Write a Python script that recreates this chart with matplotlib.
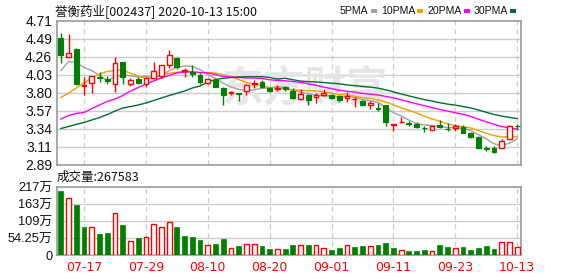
import numpy as np
import matplotlib
matplotlib.use("Agg")
import matplotlib.pyplot as plt
from matplotlib.patches import Rectangle

# ---------------- data ----------------
dates = ["07-14","07-15","07-16","07-17","07-20","07-21","07-22","07-23","07-24","07-27",
         "07-28","07-29","07-30","07-31","08-03","08-04","08-05","08-06","08-07","08-10",
         "08-11","08-12","08-13","08-14","08-17","08-18","08-19","08-20","08-21","08-24",
         "08-25","08-26","08-27","08-28","08-31","09-01","09-02","09-03","09-04","09-07",
         "09-08","09-09","09-10","09-11","09-14","09-15","09-16","09-17","09-18","09-21",
         "09-22","09-23","09-24","09-25","09-28","09-29","09-30","10-09","10-12","10-13"]
tick_dates = ["07-17","07-29","08-10","08-20","09-01","09-11","09-23","10-13"]

open_ = [4.495,4.259,4.352,3.889,3.922,4.005,3.972,3.914,4.192,3.909,
         3.977,3.914,3.985,4.015,4.150,4.242,4.074,4.070,4.027,3.926,
         3.960,3.863,3.800,3.796,3.821,3.918,3.943,3.863,3.851,3.880,
         3.829,3.724,3.775,3.745,3.775,3.775,3.762,3.733,3.720,3.699,
         3.644,3.610,3.644,3.391,3.429,3.421,3.404,3.362,3.337,3.396,
         3.349,3.353,3.374,3.290,3.248,3.101,3.101,3.101,3.214,3.387]
high = [4.563,4.546,4.365,3.998,4.020,4.070,4.015,4.259,4.195,3.985,
        4.006,4.006,4.192,4.150,4.343,4.259,4.116,4.150,4.048,3.985,
        3.973,3.880,3.829,3.804,3.909,3.964,3.964,3.880,3.897,3.888,
        3.859,3.846,3.790,3.804,3.846,3.787,3.775,3.817,3.754,3.711,
        3.699,3.669,3.652,3.408,3.501,3.450,3.429,3.383,3.379,3.459,
        3.417,3.408,3.391,3.311,3.252,3.130,3.130,3.223,3.391,3.408]
low = [4.175,4.259,3.897,3.779,3.804,3.943,3.909,3.817,3.909,3.893,
       3.909,3.880,3.973,3.990,4.120,4.108,4.006,4.006,3.909,3.909,
       3.880,3.652,3.779,3.703,3.779,3.867,3.859,3.817,3.829,3.825,
       3.728,3.711,3.644,3.678,3.762,3.720,3.690,3.690,3.619,3.636,
       3.594,3.577,3.387,3.315,3.417,3.387,3.353,3.303,3.332,3.353,
       3.324,3.315,3.290,3.227,3.088,3.063,3.046,3.101,3.214,3.332]
close = [4.284,4.301,3.914,3.897,4.015,3.995,3.947,4.175,4.006,3.964,
         3.922,3.985,4.074,4.150,4.276,4.124,4.091,4.040,3.943,3.972,
         3.880,3.779,3.808,3.787,3.897,3.931,3.880,3.825,3.867,3.846,
         3.741,3.787,3.711,3.775,3.796,3.741,3.711,3.762,3.728,3.644,
         3.674,3.602,3.429,3.408,3.438,3.412,3.370,3.353,3.379,3.366,
         3.341,3.383,3.299,3.240,3.101,3.092,3.059,3.193,3.379,3.379]

# moving-average values before enough in-window closes exist
ma5_head = [4.084, 4.198, 4.185, 4.122]
ma10_head = [3.743, 3.800, 3.863, 3.926, 3.990, 4.040, 4.072, 4.084, 4.091]
ma20_head = [3.471, 3.516, 3.541, 3.554, 3.604, 3.648, 3.693, 3.724, 3.768, 3.825,
             3.869, 3.914, 3.952, 3.990, 4.021, 4.053, 4.065, 4.068, 4.059]
ma30_head = [3.351, 3.377, 3.404, 3.427, 3.459, 3.490, 3.528, 3.572, 3.610, 3.629,
             3.648, 3.674, 3.705, 3.737, 3.768, 3.796, 3.825, 3.863, 3.888, 3.939,
             3.971, 3.986, 3.996, 4.002, 4.006, 4.006, 4.006, 3.996, 3.977]

volume = [203, 183, 158.5, 88, 90, 66, 69, 135, 95, 46,
          53, 58.5, 100, 88, 106, 88, 61, 56, 47, 33,
          34, 50, 23, 28, 36, 36, 28, 18, 20, 18,
          31, 31, 31, 31, 23, 15, 21, 31, 24.5, 28,
          28, 31, 37, 21, 17, 12, 12, 15, 14, 31,
          24.5, 21, 24.5, 15, 21, 28, 18, 42.5, 42.5, 26.7583]
vol_up = [0,1,0,0,1,0,0,1,0,1, 0,1,1,1,1,0,0,0,0,1,
          0,0,1,0,1,1,0,0,1,0, 0,1,0,1,1,0,0,1,0,0,
          1,0,0,0,1,0,0,0,1,0, 0,1,0,0,0,0,0,1,1,1]

price_ticks = ["2.89","3.11","3.34","3.57","3.80","4.03","4.26","4.49","4.71"]
vol_ticks = [0, 54.25, 108.5, 162.75, 217]
vol_tick_labels = ["0", "54.25万", "109万", "163万", "217万"]

title_text = "誉衡药业[002437] 2020-10-13 15:00"
vol_text = "成交量:267583"
watermark = "东方财富"
legend_names = ["5PMA", "10PMA", "20PMA", "30PMA"]
ma_colors = ["#a0a0a0", "#f0a000", "#ff00ff", "#006e32"]

# ---------------- computations ----------------
c = np.array(close)
def rolling(n):
    return [c[i - n + 1:i + 1].mean() for i in range(n - 1, len(c))]
ma5 = ma5_head + rolling(5)
ma10 = ma10_head + rolling(10)
ma20 = ma20_head + rolling(20)
ma30 = ma30_head + rolling(30)

RED = "#ff0000"
GREEN = "#008000"
FONT = ["Liberation Sans", "Noto Sans CJK SC", "DejaVu Sans"]
CJK = ["Noto Sans CJK SC", "DejaVu Sans"]

W, H = 578, 276
fig = plt.figure(figsize=(W / 100, H / 100), dpi=100)
fig.patch.set_facecolor("white")

def fx(px): return px / W
def fy(py): return 1 - py / H

ax = fig.add_axes([fx(57), fy(165), fx(521) - fx(57), fy(21) - fy(165)])
axv = fig.add_axes([fx(57), fy(255), fx(521) - fx(57), fy(187) - fy(255)])

n = len(close)
x = np.arange(n)
ymin, ymax = float(price_ticks[0]), float(price_ticks[-1])
tick_pos = [dates.index(d) for d in tick_dates]

for a in (ax, axv):
    a.set_xlim(-0.5, n - 0.5)
    for s in a.spines.values():
        s.set_color("#999999")
        s.set_linewidth(1.2)
    a.tick_params(length=0)
    for tp in tick_pos:
        a.axvline(tp, color="#cccccc", lw=0.9, ls=(0, (4, 3)), zorder=0)

ax.set_ylim(ymin, ymax)
ypos = np.linspace(ymin, ymax, len(price_ticks))
ax.set_yticks(ypos)
ax.set_yticklabels(price_ticks, fontsize=10, family=FONT, color="#111111")
for yp in ypos[1:-1]:
    ax.axhline(yp, color="#cccccc", lw=1.0, zorder=0)
ax.set_xticks([])

# watermark
ax.text(31.5, 3.86, watermark, fontsize=30, fontweight="bold", color="#e6e6e6",
        ha="center", va="center", family=CJK, zorder=0.5)

# MA lines
for vals, col in zip([ma5, ma10, ma20, ma30], ma_colors):
    ax.plot(x, vals, color=col, lw=1.0, zorder=2)

# candles
bw = 0.62
for i in range(n):
    o, h, l, cl = open_[i], high[i], low[i], close[i]
    up = cl >= o
    col = RED if up else GREEN
    ax.vlines(i, l, h, color=col, lw=1.0, zorder=3)
    bottom = min(o, cl)
    hgt = max(abs(cl - o), 0.004)
    if up:
        ax.bar(i, hgt, bottom=bottom, width=bw, facecolor="white",
               edgecolor=col, linewidth=1.0, zorder=4)
    else:
        ax.bar(i, hgt, bottom=bottom, width=bw, facecolor=col,
               edgecolor=col, linewidth=0.8, zorder=4)

# volume
axv.set_ylim(0, vol_ticks[-1])
axv.set_yticks(vol_ticks)
axv.set_yticklabels(vol_tick_labels, fontsize=9.2, family=FONT, color="#111111")
for yp in vol_ticks[1:-1]:
    axv.axhline(yp, color="#cccccc", lw=1.0, zorder=0)
for i in range(n):
    if vol_up[i]:
        axv.bar(i, volume[i], width=bw, facecolor="white", edgecolor=RED,
                linewidth=1.0, zorder=3)
    else:
        axv.bar(i, volume[i], width=bw, facecolor=GREEN, edgecolor=GREEN,
                linewidth=0.5, zorder=3)
axv.set_xticks(tick_pos)
axv.set_xticklabels(tick_dates, fontsize=9, color=RED, family=["DejaVu Sans"])
axv.tick_params(axis="x", pad=4)

# texts
fig.text(fx(55), fy(11), title_text, fontsize=9, family=CJK, va="center", ha="left",
         color="#111111")
fig.text(fx(57), fy(177), vol_text, fontsize=9, family=CJK, va="center", ha="left",
         color="#111111")

# legend (text + small squares placed right after each text)
lx = [340, 381, 428, 474]
fig.canvas.draw()
renderer = fig.canvas.get_renderer()
for name, col, px in zip(legend_names, ma_colors, lx):
    t = fig.text(fx(px), fy(11), name, fontsize=7.6, family=["Liberation Sans"],
                 va="center", ha="left", color="#111111")
    bb = t.get_window_extent(renderer=renderer)
    sq_x = bb.x1 + 2
    fig.patches.append(Rectangle((sq_x / W, fy(13)), 6 / W, 4 / H,
                       transform=fig.transFigure, facecolor=col, edgecolor="none"))

fig.savefig("out.png", dpi=100, facecolor="white")
